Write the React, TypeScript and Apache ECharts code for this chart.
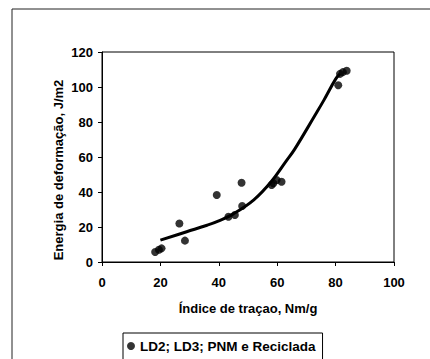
import React, { useEffect, useRef } from "react";
import * as echarts from "echarts";

// Tensile index (Nm/g) vs. deformation energy (J/m2) measurements
const tensileIndex = [18.2, 19.5, 20.4, 26.5, 28.4, 39.3, 43.3, 45.5, 48.0, 47.8, 58.1, 58.7, 59.8, 61.5, 80.9, 81.5, 82.5, 83.8];
const deformationEnergy = [5.7, 7.0, 7.8, 22.0, 12.2, 38.3, 25.9, 26.9, 32.0, 45.3, 44.0, 45.0, 46.9, 45.9, 101.0, 107.5, 108.5, 109.3];

// Trend curve traced through the measurements
const trendX = [20, 29, 36, 40, 45, 52, 58, 63, 66, 73, 76, 80, 81.5];
const trendY = [12.5, 17.3, 21.0, 23.5, 27.5, 35.5, 46.0, 57.5, 64.5, 84.0, 92.5, 104.5, 107.5];

const xTicks = [0, 20, 40, 60, 80, 100];
const yTicks = [0, 20, 40, 60, 80, 100, 120];

const seriesName = "LD2; LD3; PNM e Reciclada";
const xTitle = "Índice de traçao, Nm/g";
const yTitle = "Energia de deformação, J/m2";

const FONT = "'Liberation Sans', Arial, sans-serif";

export default function App() {
  const ref = useRef<HTMLDivElement>(null);

  useEffect(() => {
    if (!ref.current) return;
    const chart = echarts.init(ref.current, undefined, { renderer: "svg" });
    const labelStyle = { color: "#000", fontFamily: FONT, fontSize: 13, fontWeight: "bold" as const };

    chart.setOption({
      animation: false,
      backgroundColor: "#fff",
      textStyle: { fontFamily: FONT },
      grid: {
        left: 102,
        top: 52,
        width: 292,
        height: 210,
        show: true,
        borderColor: "#000",
        borderWidth: 1,
        backgroundColor: "transparent",
      },
      xAxis: {
        type: "value",
        min: xTicks[0],
        max: xTicks[xTicks.length - 1],
        interval: 20,
        name: xTitle,
        nameLocation: "middle",
        nameGap: 40,
        nameTextStyle: labelStyle,
        axisLine: { lineStyle: { color: "#000", width: 1 } },
        axisTick: { show: true, length: 4, lineStyle: { color: "#000" } },
        axisLabel: { ...labelStyle, margin: 14 },
        splitLine: { show: false },
      },
      yAxis: {
        type: "value",
        min: yTicks[0],
        max: yTicks[yTicks.length - 1],
        interval: 20,
        axisLine: { show: true, lineStyle: { color: "#000", width: 1 } },
        axisTick: { show: true, length: 4, lineStyle: { color: "#000" } },
        axisLabel: { ...labelStyle, margin: 9 },
        splitLine: { show: false },
      },
      legend: {
        data: [{ name: seriesName, icon: "circle" }],
        left: 123,
        top: 333,
        padding: [6, 7, 20, 4],
        itemWidth: 8,
        itemHeight: 8,
        itemGap: 5,
        borderColor: "#000",
        borderWidth: 1,
        textStyle: { ...labelStyle, fontSize: 13.5 },
      },
      graphic: [
        {
          type: "rect",
          shape: { x: 12, y: 9, width: 430, height: 360 },
          style: { fill: "none", stroke: "#222", lineWidth: 1 },
          silent: true,
        },
        {
          type: "text",
          x: 58,
          y: 170,
          rotation: Math.PI / 2,
          style: {
            text: yTitle,
            align: "center",
            verticalAlign: "middle",
            fill: "#000",
            font: `bold 13px ${FONT}`,
          },
        },
      ],
      series: [
        {
          name: "trend",
          type: "line",
          data: trendX.map((x, i) => [x, trendY[i]]),
          smooth: 0.4,
          showSymbol: false,
          lineStyle: { color: "#000", width: 3 },
          z: 2,
        },
        {
          name: seriesName,
          type: "scatter",
          data: tensileIndex.map((x, i) => [x, deformationEnergy[i]]),
          symbol: "circle",
          symbolSize: 8,
          itemStyle: { color: "#000" },
          z: 3,
        },
      ],
    });
    return () => chart.dispose();
  }, []);

  return (
    <div
      ref={ref}
      style={{ position: "fixed", left: 0, top: 0, width: 430, height: 359, background: "#fff" }}
    />
  );
}
